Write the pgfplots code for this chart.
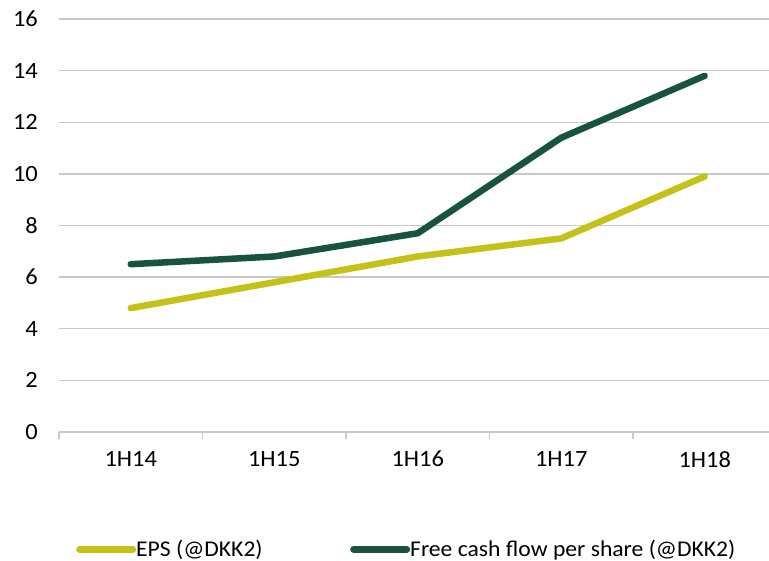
\documentclass[border=0pt]{standalone}
\usepackage{pgfplots}
\pgfplotsset{compat=1.18}
\usepackage{fontspec}
\setmainfont{Carlito}[FakeStretch=1.05]
\definecolor{epsc}{HTML}{C4C219}
\definecolor{fcfc}{HTML}{17533F}
\definecolor{gridc}{HTML}{C8C8C8}
\begin{document}
\begin{tikzpicture}
\useasboundingbox (-59bp,-129bp) rectangle (710bp,432bp);
\begin{axis}[
  at={(0,0)}, anchor=south west,
  scale only axis, width=710bp, height=413bp,
  xmin=-0.5, xmax=4.448, ymin=0, ymax=16,
  axis lines*=left,
  y axis line style={draw=none},
  x axis line style={draw=gridc, line width=1.3bp},
  ytick={0,2,...,16},
  ymajorgrids, grid style={draw=gridc, line width=1.3bp},
  xtick={0,1,2,3,4},
  xticklabels={1H14,1H15,1H16,1H17,1H18},
  minor xtick={-0.5,0.5,1.5,2.5,3.5},
  major tick length=0pt,
  minor tick length=7bp,
  tick align=outside,
  minor tick style={draw=gridc, line width=1.3bp},
  tick label style={font=\fontsize{23.3bp}{26bp}\selectfont, text=black},
  /pgf/number format/assume math mode=true,
  yticklabel style={anchor=east, inner sep=0pt, xshift=-21bp},
  xticklabel style={anchor=north, inner sep=0pt, yshift=-19bp},
  legend style={at={(axis description cs:0.02394,-0.283)}, anchor=west, draw=none, fill=none,
    inner sep=0pt, font=\fontsize{22.5bp}{26bp}\selectfont, legend columns=2,
    column sep=0pt,
    nodes={inner sep=0pt, anchor=base west}},
  legend cell align=left,
  legend image code/.code={\path[draw=none] (0bp,7bp) -- (56bp,7bp); \draw[#1, line width=7bp, line cap=round] (3.5bp,7bp) -- (56.5bp,7bp);},
  clip=false,
]
\addplot[epsc, line width=6.5bp, line cap=round, line join=round] coordinates {(0,4.8) (1,5.8) (2,6.8) (3,7.5) (4,9.9)};
\addlegendentry{\makebox[214bp][l]{EPS (@DKK2)}}
\addplot[fcfc, line width=6.5bp, line cap=round, line join=round] coordinates {(0,6.5) (1,6.8) (2,7.7) (3,11.4) (4,13.8)};
\addlegendentry{Free cash flow per share (@DKK2)}
\end{axis}
\end{tikzpicture}
\end{document}
